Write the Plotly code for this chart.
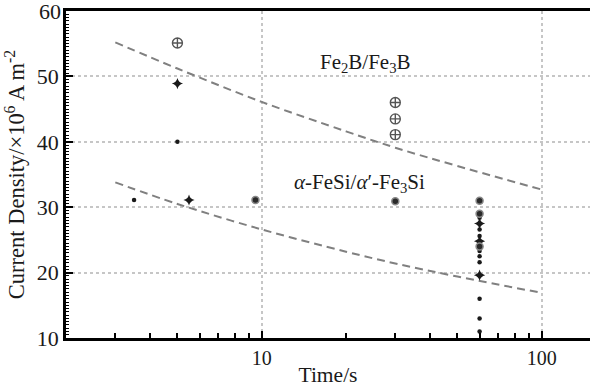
import math
import plotly.graph_objects as go

# Fe2B/Fe3B measurements (open circle-cross)
fe2b_x = [5, 30, 30, 30]
fe2b_y = [55.1, 46.0, 43.5, 41.1]

# four-point star markers
star_x = [5, 5.5, 60, 60, 60]
star_y = [48.9, 31.1, 27.5, 24.8, 19.6]

# small dots
dot_x = [5, 3.5, 60, 60, 60, 60, 60, 60, 60, 60, 60]
dot_y = [40.0, 31.1, 28.4, 26.6, 25.6, 23.3, 22.5, 21.6, 16.0, 13.0, 11.0]

# large dark dots
big_x = [9.5, 30, 60, 60, 60]
big_y = [31.1, 30.9, 31.0, 29.0, 24.0]

# dashed trend curves
trend_x = [3, 5, 10, 20, 30, 50, 100]
upper_y = [55.2, 51.2, 46.1, 41.6, 39.1, 36.3, 32.7]
lower_y = [33.8, 30.5, 26.6, 23.2, 21.4, 19.4, 16.9]

# phase labels: text, time position, current-density position
phase_labels = ["Fe<sub>2</sub>B/Fe<sub>3</sub>B",
                "<i>α</i>-FeSi/<i>α</i>′-Fe<sub>3</sub>Si"]
label_x = [23.5, 22.4]
label_y = [52.1, 33.7]

# y-axis tick labels
y_ticks = [10, 20, 30, 40, 50, 60]

font_family = "'Liberation Serif', 'Times New Roman', Times, serif"
ink = "#1a1a1a"

fig = go.Figure()

for ty in (upper_y, lower_y):
    fig.add_trace(go.Scatter(
        x=trend_x, y=ty, mode="lines", line_shape="spline",
        line=dict(color="#808080", width=2, dash="8px,5px"),
        showlegend=False, hoverinfo="skip"))

fig.add_trace(go.Scatter(
    x=fe2b_x, y=fe2b_y, mode="markers", showlegend=False,
    marker=dict(symbol="circle-cross-open", size=10, color="#555555",
                line=dict(width=1.4, color="#555555"))))
fig.add_trace(go.Scatter(
    x=star_x, y=star_y, mode="markers", showlegend=False,
    marker=dict(symbol="star-diamond", size=8, color=ink,
                line=dict(width=0))))
fig.add_trace(go.Scatter(
    x=dot_x, y=dot_y, mode="markers", showlegend=False,
    marker=dict(symbol="circle", size=4.5, color=ink, line=dict(width=0))))
fig.add_trace(go.Scatter(
    x=big_x, y=big_y, mode="markers", showlegend=False,
    marker=dict(symbol="circle", size=7, color="#2a2a2a",
                line=dict(width=1.5, color="#888888"))))

for txt, lx, ly in zip(phase_labels, label_x, label_y):
    fig.add_annotation(x=math.log10(lx), y=ly, xref="x", yref="y",
                       text=txt, showarrow=False,
                       font=dict(family=font_family, size=21, color=ink))

# the top tick label sits on the plot edge, so it is placed as an annotation
fig.add_annotation(x=0, y=y_ticks[-1], xref="paper", yref="y",
                   xanchor="right", yanchor="middle", xshift=-3,
                   text=str(y_ticks[-1]), showarrow=False,
                   font=dict(family=font_family, size=22, color=ink))

x_lo = math.log10(2)
x_hi = x_lo + 524 / 280

fig.update_layout(
    width=590, height=387,
    margin=dict(l=66, r=0, t=11, b=49),
    paper_bgcolor="white", plot_bgcolor="white",
    font=dict(family=font_family, color=ink),
    xaxis=dict(
        type="log", range=[x_lo, x_hi], automargin=False,
        tickvals=[10, 100], ticktext=["10", "100"],
        ticks="inside", ticklen=7, tickwidth=2, tickcolor="black",
        tickfont=dict(size=20, family=font_family, color=ink),
        showline=True, linewidth=2.5, linecolor="black", mirror=True,
        showgrid=True, gridcolor="#c6c6c6", gridwidth=1.5, griddash="dot",
        zeroline=False,
        minor=dict(tickvals=[3, 4, 5, 6, 7, 8, 9, 20, 30, 40, 50, 60, 70, 80, 90],
                   ticks="inside", ticklen=5, tickwidth=1.5, tickcolor="black",
                   showgrid=False),
        title=dict(text="Time/s", standoff=6,
                   font=dict(size=21.5, family=font_family, color=ink)),
    ),
    yaxis=dict(
        range=[10, 60], tickvals=y_ticks[:-1], automargin=False,
        ticks="inside", ticklen=7, tickwidth=2, tickcolor="black",
        tickfont=dict(size=22, family=font_family, color=ink),
        showline=True, linewidth=2.5, linecolor="black", mirror=False,
        showgrid=True, gridcolor="#c6c6c6", gridwidth=1.5, griddash="dot",
        zeroline=False,
        minor=dict(dtick=0.5, ticks="inside", ticklen=3, tickwidth=1.2,
                   tickcolor="black", showgrid=False),
        title=dict(text="Current Density/×10<sup>6</sup> A m<sup>-2</sup>",
                   standoff=6,
                   font=dict(size=22.5, family=font_family, color=ink)),
    ),
)

fig.write_html("out.html")
